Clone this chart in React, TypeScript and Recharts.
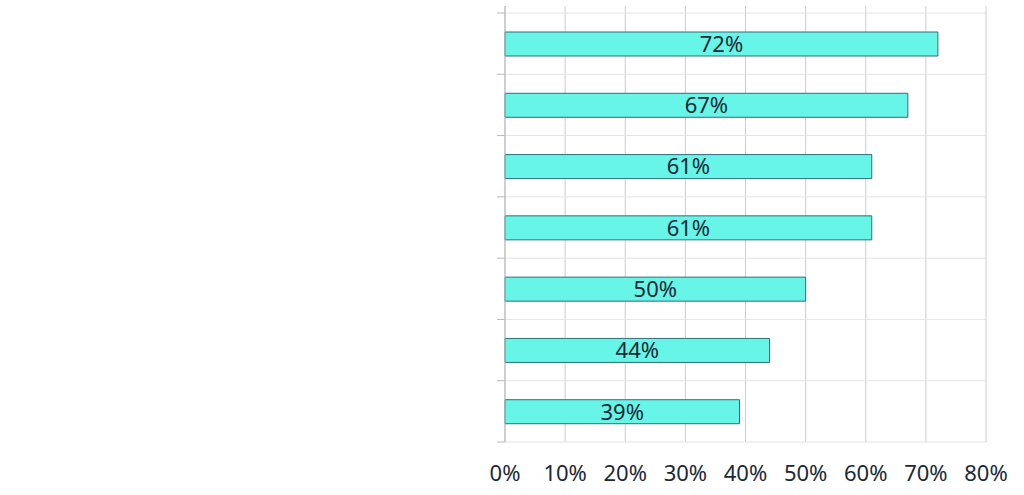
// Horizontal bar chart; category labels in the source are not visible, so the
// category axis draws only short tick marks at the band edges.
import { Bar, BarChart, CartesianGrid, LabelList, XAxis, YAxis } from 'recharts'

const categories = ['1', '2', '3', '4', '5', '6', '7']
const values = [72, 67, 61, 61, 50, 44, 39]
const xTicks = [0, 10, 20, 30, 40, 50, 60, 70, 80]

const FONT = '"Noto Sans", sans-serif'
const TEXT = '#1a2937'
const AXIS = '#b8b8b8'
const PAD_TOP = 7

// tick mark at the top edge of each band (and the bottom edge of the last one)
function EdgeTick(props: any) {
  const { x, y, payload, index } = props
  const half = payload?.offset ?? 0
  const last = index === categories.length - 1
  return (
    <g>
      <line x1={x - 8} x2={x} y1={y - half} y2={y - half} stroke={AXIS} />
      {last && <line x1={x - 8} x2={x} y1={y + half} y2={y + half} stroke={AXIS} />}
    </g>
  )
}

// horizontal grid lines on the band edges of the category axis
function bandEdges({ offset }: any) {
  if (!offset) return []
  const top = offset.top + PAD_TOP
  const band = (offset.height - PAD_TOP) / categories.length
  return [...categories.map((_, i) => top + i * band), top + categories.length * band]
}

export default function App() {
  const data = categories.map((name, i) => ({ name, value: values[i] }))
  return (
    <div style={{ position: 'absolute', left: 0, top: 0, width: 1024, height: 495, background: '#fff' }}>
      <BarChart
        width={1024}
        height={495}
        data={data}
        layout="vertical"
        margin={{ top: 6, right: 38, bottom: 0, left: 490 }}
      >
        <CartesianGrid horizontal={false} stroke="#cccccc" />
        <CartesianGrid vertical={false} stroke="#e4e4e4" horizontalCoordinatesGenerator={bandEdges} />
        <XAxis
          type="number"
          domain={[0, 80]}
          ticks={xTicks}
          tickFormatter={(v) => `${v}%`}
          axisLine={false}
          tickLine={false}
          tickMargin={17}
          height={53}
          tick={{ fontSize: 22, fill: TEXT, fontFamily: FONT }}
          interval={0}
        />
        <YAxis
          type="category"
          dataKey="name"
          width={15}
          padding={{ top: PAD_TOP, bottom: 0 }}
          tickLine={false}
          tickSize={0}
          tickMargin={0}
          tick={<EdgeTick />}
          stroke={AXIS}
          interval={0}
        />
        <Bar dataKey="value" barSize={24} fill="#66f5e6" stroke="#2f6f7a" strokeWidth={1} isAnimationActive={false}>
          <LabelList
            dataKey="value"
            position="center"
            formatter={(v: number) => `${v}%`}
            style={{ fontSize: 22, fill: TEXT, fontFamily: FONT }}
          />
        </Bar>
      </BarChart>
    </div>
  )
}
